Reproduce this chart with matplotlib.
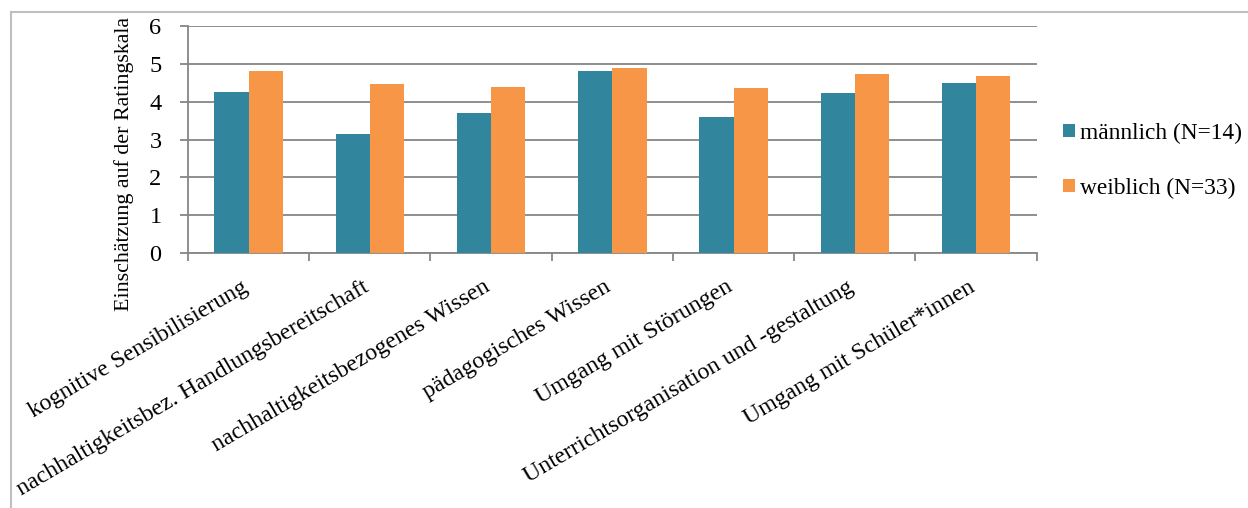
import numpy as np
import matplotlib.pyplot as plt
from matplotlib.lines import Line2D

plt.rcParams['font.family'] = ['Liberation Serif', 'DejaVu Serif']

categories = [
    'kognitive Sensibilisierung',
    'nachhaltigkeitsbez. Handlungsbereitschaft',
    'nachhaltigkeitsbezogenes Wissen',
    'pädagogisches Wissen',
    'Umgang mit Störungen',
    'Unterrichtsorganisation und -gestaltung',
    'Umgang mit Schüler*innen',
]
maennlich = [4.27, 3.15, 3.70, 4.81, 3.61, 4.23, 4.49]
weiblich = [4.83, 4.47, 4.40, 4.90, 4.36, 4.75, 4.68]
series_labels = ['männlich (N=14)', 'weiblich (N=33)']
yticks = [0, 1, 2, 3, 4, 5, 6]

teal = '#31859C'
orange = '#F79646'
grid_gray = '#868686'

W, H = 1248, 508
fig = plt.figure(figsize=(W / 100, H / 100), dpi=100)
ax = fig.add_axes([188 / W, 1 - 252.7 / H, (1036.7 - 188) / W, (252.7 - 26.5) / H])

x = np.arange(len(categories))
bw = 0.283
ax.bar(x - bw / 2, maennlich, bw, color=teal, label=series_labels[0], zorder=3)
ax.bar(x + bw / 2, weiblich, bw, color=orange, label=series_labels[1], zorder=3)

ax.set_xlim(-0.5, len(categories) - 0.5)
ax.set_ylim(0, 6)
ax.set_yticks(yticks)
ax.yaxis.grid(True, color=grid_gray, linewidth=1.3, zorder=0)

# tick marks sit on the category boundaries, labels in the middle
ax.set_xticks(np.arange(len(categories) + 1) - 0.5, labels=[''] * (len(categories) + 1))
ax.set_xticks(x, labels=categories, minor=True)
ax.tick_params(axis='x', which='major', length=6, width=1.3, color=grid_gray, direction='out')
ax.tick_params(axis='x', which='minor', length=0, pad=27, labelsize=17.2)
for lbl in ax.get_xticklabels(minor=True):
    lbl.set_rotation(30.5)
    lbl.set_rotation_mode('anchor')
    lbl.set_ha('right')
    lbl.set_va('baseline')
ax.tick_params(axis='y', length=6, width=1.3, color=grid_gray, pad=13, labelsize=17.5)

for side in ['top', 'right']:
    ax.spines[side].set_visible(False)
for side in ['left', 'bottom']:
    ax.spines[side].set_color(grid_gray)
    ax.spines[side].set_linewidth(1.3)

fig.text(124 / W, 1 - 164 / H, 'Einschätzung auf der Ratingskala', rotation=90,
         ha='center', va='center', fontsize=15.8)

ax.legend(loc='center left', bbox_to_anchor=(1063 / W, 1 - 161 / H), bbox_transform=fig.transFigure,
          frameon=False, fontsize=16.8, handlelength=0.5, handleheight=0.5,
          handletextpad=0.25, labelspacing=1.45, borderaxespad=0, borderpad=0)

# outer chart frame
fig.add_artist(Line2D([11 / W, 11 / W], [0, 1 - 11.7 / H], color='#BFBFBF', linewidth=1.5))
fig.add_artist(Line2D([11 / W, 1], [1 - 11.7 / H, 1 - 11.7 / H], color='#BFBFBF', linewidth=1.5))

fig.savefig('out.png', dpi=100)
